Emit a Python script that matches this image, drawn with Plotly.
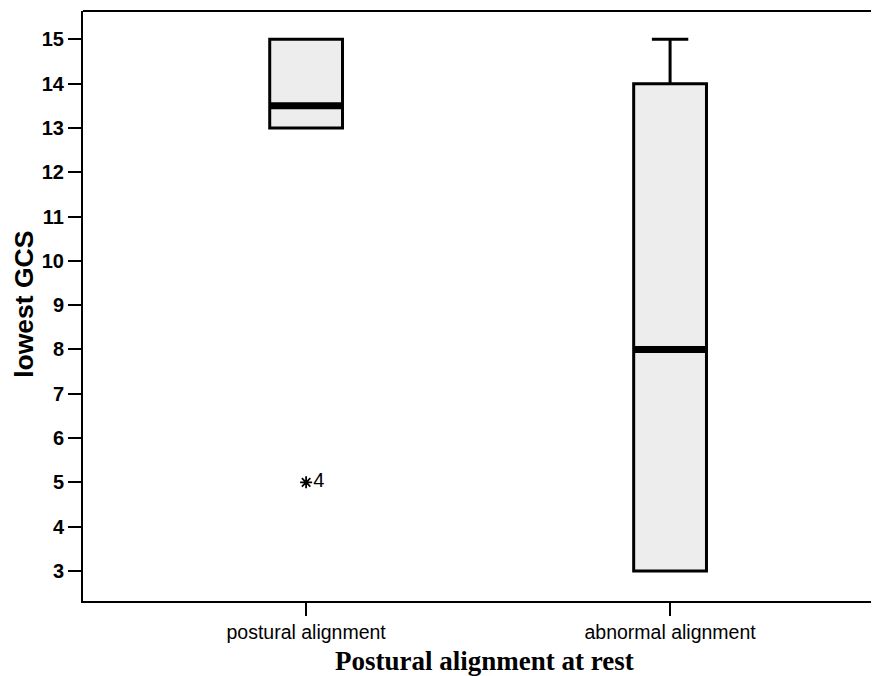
import plotly.graph_objects as go

categories = ["postural alignment", "abnormal alignment"]
positions = [0, 1]
q1 = [13, 3]
median = [13.5, 8]
q3 = [15, 14]
lower_fence = [13, 3]
upper_fence = [15, 15]
outlier_cat = [0]
outlier_val = [5]
outlier_label = ["4"]

box_w = 0.2
fig = go.Figure()
for i in range(len(categories)):
    fig.add_trace(go.Box(
        x=[positions[i]], q1=[q1[i]], median=[median[i]], q3=[q3[i]],
        lowerfence=[lower_fence[i]], upperfence=[upper_fence[i]],
        width=box_w, whiskerwidth=0.5,
        fillcolor="#ededed", line=dict(color="black", width=3),
        showlegend=False, hoverinfo="skip", boxpoints=False,
    ))
    fig.add_trace(go.Scatter(
        x=[positions[i] - box_w / 2, positions[i] + box_w / 2],
        y=[median[i], median[i]], mode="lines",
        line=dict(color="black", width=7), showlegend=False, hoverinfo="skip",
    ))

fig.add_trace(go.Scatter(
    x=outlier_cat, y=outlier_val, mode="markers+text",
    marker=dict(symbol="asterisk-open", size=10, color="black", line=dict(color="black", width=1.8)),
    text=outlier_label, textposition="middle right",
    textfont=dict(family="Liberation Sans, Arial", size=20, color="black"),
    showlegend=False, hoverinfo="skip",
))

fig.update_layout(
    width=871, height=668,
    margin=dict(l=75, r=0, t=3, b=75),
    paper_bgcolor="white", plot_bgcolor="white",
    xaxis=dict(
        range=[-0.613, 1.574], tickvals=positions, ticktext=categories,
        showline=True, linecolor="black", linewidth=2,
        ticks="outside", ticklen=13, tickwidth=2, tickcolor="black",
        showgrid=False, zeroline=False,
        tickfont=dict(family="Liberation Sans, Arial", size=19.5, color="black"),
    ),
    yaxis=dict(
        range=[2.32, 15.64], tickvals=list(range(3, 16)),
        ticktext=["<b>%d</b>" % v for v in range(3, 16)],
        showline=True, linecolor="black", linewidth=2,
        ticks="outside", ticklen=13, tickwidth=2, tickcolor="black",
        showgrid=False, zeroline=False,
        tickfont=dict(family="Liberation Sans, Arial", size=20, color="black"),
    ),
    shapes=[dict(type="line", xref="paper", yref="paper", x0=0, x1=1, y0=1, y1=1,
                 line=dict(color="black", width=2))],
    annotations=[
        dict(text="<b>lowest GCS</b>", xref="paper", yref="paper", x=0, y=0.502,
             xanchor="center", yanchor="middle", xshift=-59, textangle=-90, showarrow=False,
             font=dict(family="Liberation Sans, Arial", size=26.5, color="black")),
        dict(text="<b>Postural alignment at rest</b>", xref="paper", yref="paper", x=0.505, y=0,
             xanchor="center", yanchor="middle", yshift=-60, showarrow=False,
             font=dict(family="Liberation Serif, Times New Roman", size=27, color="black")),
    ],
)

fig.write_html("out.html")
